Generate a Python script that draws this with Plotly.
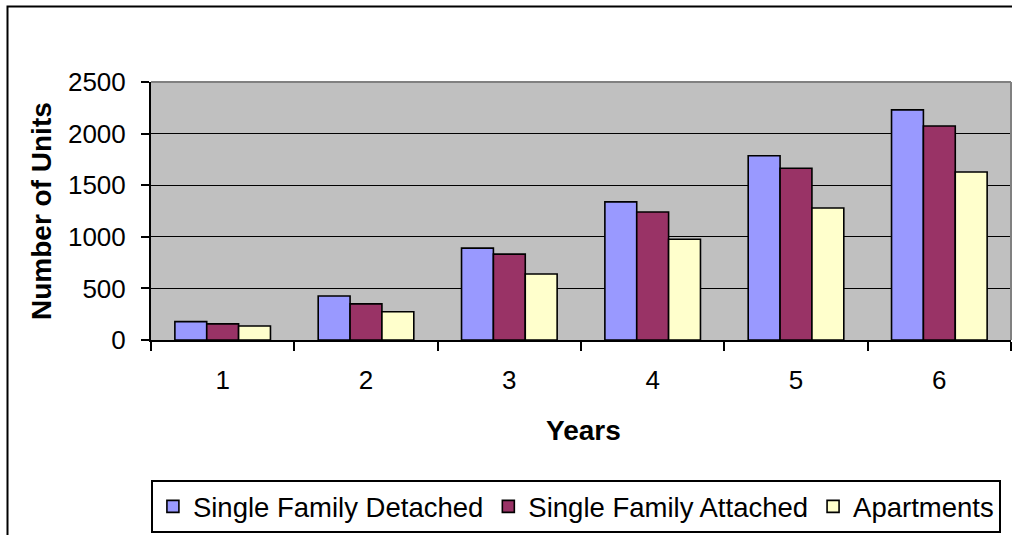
import plotly.graph_objects as go

# Housing units projected per year, by type
years = ["1", "2", "3", "4", "5", "6"]
single_family_detached = [178, 427, 890, 1338, 1785, 2230]
single_family_attached = [156, 350, 832, 1240, 1664, 2074]
apartments = [136, 274, 640, 976, 1279, 1628]
y_ticks = [0, 500, 1000, 1500, 2000, 2500]

W, H = 1012, 535
L, R, T, B = 151, 1, 82, 195
pw, ph = W - L - R, H - T - B

def px_x(x):
    return (x - L) / pw

def px_y(y):
    return (H - B - y) / ph

FONT = "Arial, Liberation Sans, sans-serif"

series = [
    ("Single Family Detached", single_family_detached, "#9999FF"),
    ("Single Family Attached", single_family_attached, "#993366"),
    ("Apartments", apartments, "#FFFFCC"),
]

fig = go.Figure()
for name, vals, color in series:
    fig.add_trace(go.Bar(
        x=years, y=vals, name=name,
        marker=dict(color=color, line=dict(color="black", width=1.6)),
    ))

fig.update_layout(
    width=W, height=H,
    margin=dict(l=L, r=R, t=T, b=B, pad=0),
    paper_bgcolor="white",
    plot_bgcolor="#C0C0C0",
    barmode="group",
    bargap=0.333,
    bargroupgap=0,
    font=dict(family=FONT, color="black"),
    showlegend=True,
    legend=dict(
        orientation="h",
        x=-0.0001, y=px_y(480), xanchor="left", yanchor="top",
        bgcolor="white", bordercolor="black", borderwidth=2,
        font=dict(family=FONT, size=27.5, color="black"),
        itemclick=False, itemdoubleclick=False,
        traceorder="normal",
    ),
    xaxis=dict(
        type="category",
        tickson="boundaries",
        ticks="outside", ticklen=9, tickwidth=2, tickcolor="black",
        showline=True, linecolor="black", linewidth=2,
        showgrid=False,
        tickfont=dict(family=FONT, size=26, color="black"),
        ticklabelstandoff=16,
        automargin=False,
    ),
    yaxis=dict(
        range=[0, 2500],
        tickvals=y_ticks,
        ticks="outside", ticklen=8, tickwidth=2, tickcolor="black",
        showline=True, linecolor="black", linewidth=2,
        showgrid=True, gridcolor="black", gridwidth=1.3,
        zeroline=False,
        tickfont=dict(family=FONT, size=26, color="black"),
        ticklabelstandoff=10,
        automargin=False,
    ),
    shapes=[
        # grey frame on top and right of the plotting area
        dict(type="line", xref="paper", yref="paper", x0=0, x1=1, y0=1, y1=1,
             line=dict(color="#808080", width=2), layer="above"),
        dict(type="line", xref="paper", yref="paper", x0=1, x1=1, y0=0, y1=1,
             line=dict(color="#808080", width=2), layer="above"),
        # outer chart frame
        dict(type="rect", xref="paper", yref="paper",
             x0=px_x(7.5), x1=px_x(1020), y0=px_y(6.5), y1=px_y(545),
             line=dict(color="black", width=2), fillcolor="rgba(0,0,0,0)"),
    ],
    annotations=[
        dict(text="<b>Number of Units</b>", xref="paper", yref="paper",
             x=px_x(41), y=0.5, textangle=-90, showarrow=False,
             font=dict(family=FONT, size=28, color="black"),
             xanchor="center", yanchor="middle"),
        dict(text="<b>Years</b>", xref="paper", yref="paper",
             x=px_x(583), y=px_y(430), showarrow=False,
             font=dict(family=FONT, size=28, color="black"),
             xanchor="center", yanchor="middle"),
    ],
)

fig.write_html("out.html")
